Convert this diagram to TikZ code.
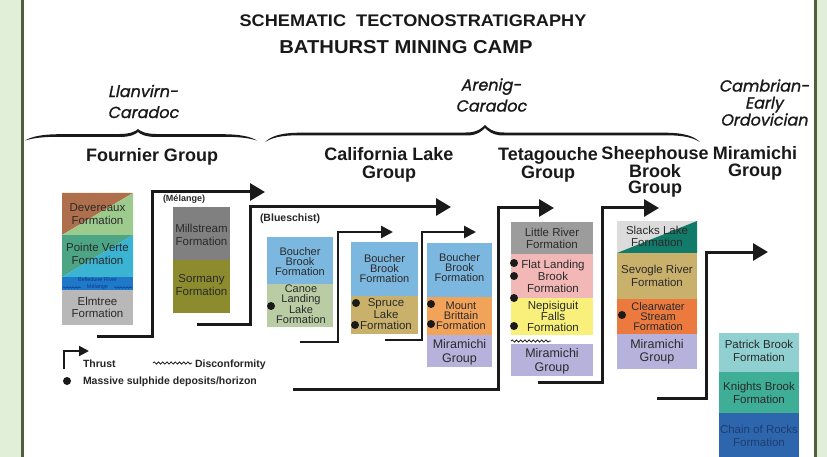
\documentclass[tikz,border=0pt]{standalone}
\usepackage{fontspec}
\setmainfont{Liberation Sans}
\newfontfamily\titlefont[FakeStretch=1.08]{Liberation Sans}
\newfontfamily\agefont[FakeSlant=0.2,FakeBold=1.2]{Poppins}
\usetikzlibrary{arrows.meta,decorations.pathmorphing}
\definecolor{cSide}{HTML}{E1EFD9}
\definecolor{cSideLine}{HTML}{4F5F3C}
\definecolor{cBrown}{HTML}{B06F4C}
\definecolor{cLgreen}{HTML}{9DCB8E}
\definecolor{cTealG}{HTML}{4CA585}
\definecolor{cCyan}{HTML}{3BB3D3}
\definecolor{cBelle}{HTML}{1F78C8}
\definecolor{cBelleTxt}{HTML}{0B3C8C}
\definecolor{cLgray}{HTML}{B8B8B8}
\definecolor{cGray}{HTML}{808080}
\definecolor{cOlive}{HTML}{8C8C2E}
\definecolor{cBlue}{HTML}{7CB7E0}
\definecolor{cSage}{HTML}{B9CCA4}
\definecolor{cTan}{HTML}{C9B16C}
\definecolor{cOrange}{HTML}{F2A35A}
\definecolor{cLav}{HTML}{B6B2DC}
\definecolor{cMgray}{HTML}{9C9C9C}
\definecolor{cPink}{HTML}{F2B7B7}
\definecolor{cYellow}{HTML}{F8F07A}
\definecolor{cPale}{HTML}{DCDCDC}
\definecolor{cDteal}{HTML}{117A68}
\definecolor{cRorange}{HTML}{EC7A3E}
\definecolor{cPatrick}{HTML}{90D0D0}
\definecolor{cKnights}{HTML}{3FAE96}
\definecolor{cChain}{HTML}{2E66AE}
\definecolor{cChainTxt}{HTML}{1D3D70}
\definecolor{cText}{HTML}{2A2A2A}
\definecolor{cLine}{HTML}{1A1A1A}
\newcommand\tbrace[6]{%
  \fill[cLine] ({#1},{#4+#5}) .. controls ({#1+6},{#4+0.3*#5}) and ({#1+15},{#4-1.2}) .. ({#1+35},{#4-1.3})
  -- ({#2-18},{#4-1.5}) .. controls ({#2-7},{#4-1.6}) and ({#2-2},{#4-#6+2}) .. ({#2},{#4-#6})
  .. controls ({#2+2},{#4-#6+2}) and ({#2+7},{#4-1.6}) .. ({#2+18},{#4-1.5})
  -- ({#3-35},{#4-1.3}) .. controls ({#3-15},{#4-1.2}) and ({#3-6},{#4+0.3*#5}) .. ({#3},{#4+#5})
  .. controls ({#3-7},{#4+0.3*#5+1.5}) and ({#3-15},{#4+1.2}) .. ({#3-35},{#4+1.3})
  -- ({#2+18},{#4+1.5}) .. controls ({#2+7},{#4+1.4}) and ({#2+2},{#4-#6+5}) .. ({#2},{#4-#6+3})
  .. controls ({#2-2},{#4-#6+5}) and ({#2-7},{#4+1.4}) .. ({#2-18},{#4+1.5})
  -- ({#1+35},{#4+1.3}) .. controls ({#1+15},{#4+1.2}) and ({#1+7},{#4+0.3*#5+1.5}) .. ({#1},{#4+#5}) -- cycle;}
\begin{document}
\begin{tikzpicture}[x=1pt,y=-1pt,
  txt/.style={inner sep=0pt, outer sep=0pt, align=center, text=cText, font=\fontsize{11.5}{#1}\selectfont},
  txt/.default=10,
  tight/.style={inner sep=0pt, outer sep=0pt, align=center, text=cText, font=\fontsize{11}{#1}\selectfont},
  tight/.default=10,
  mg/.style={inner sep=0pt, outer sep=0pt, align=center, text=cText, font=\fontsize{12.5}{#1}\selectfont},
  mg/.default=14,
  grp/.style={inner sep=0pt, outer sep=0pt, align=center, text=black!90, font=\fontsize{18}{#1}\selectfont\bfseries},
  grp/.default=18,
  age/.style={inner sep=0pt, outer sep=0pt, align=center, text=black!90, font=\agefont\fontsize{16}{#1}\selectfont},
  age/.default=21,
  ttl/.style={inner sep=0pt, outer sep=0pt, anchor=base, text=black!90, font=\titlefont\bfseries\fontsize{#1}{#1}\selectfont},
  lgd/.style={inner sep=0pt, outer sep=0pt, anchor=base west, text=black!85, font=\fontsize{10.5}{12}\selectfont\bfseries},
  thrust/.style={draw=cLine, line width=3pt, -{Triangle[length=15pt,width=17pt]}},
  thrustsm/.style={draw=cLine, line width=2.6pt, -{Triangle[length=12pt,width=12pt]}},
  dot/.style={circle, fill=cLine, inner sep=0pt, minimum size=8pt},
  wavy/.style={draw=cLine, decorate, decoration={snake, amplitude=1.1pt, segment length=4.2pt}, line width=0.8pt}]
\useasboundingbox (0,0) rectangle (827,457);
\fill[white] (0,0) rectangle (827,457);
% side strips
\fill[cSide] (0,0) rectangle (21,457);
\draw[cSideLine, line width=2.6pt] (22.3,0) -- (22.3,457);
\fill[cSide] (816,0) rectangle (827,457);
\draw[cSideLine, line width=2.6pt] (815.5,0) -- (815.5,457);
% titles
\node[ttl=16.8] (title1) at (413,27) {SCHEMATIC\ \ TECTONOSTRATIGRAPHY};
\node[ttl=18.7] (title2) at (406,54) {BATHURST MINING CAMP};
% ages
\node[age] (ageA) at (143,101.5) {Llanvirn-\\Caradoc};
\node[age] (ageB) at (491,95) {Arenig-\\Caradoc};
\node[age=17] (ageC) at (764,102.5) {Cambrian-\\Early\\Ordovician};
% braces
\tbrace{25}{138}{257}{135.5}{5}{6.5}
\tbrace{265}{485}{700}{134}{8}{9}
% group labels
\node[grp, anchor=base] (gFour) at (152,162) {Fournier Group};
\node[grp] (gCal) at (389,164.4) {California Lake\\Group};
\node[grp] (gTet) at (548,164.4) {Tetagouche\\Group};
\node[grp=16] (gShe) at (655,172) {Sheephouse\\Brook\\Group};
\node[grp=16.5] (gMir) at (755,163.5) {Miramichi\\Group};
% Fournier column
\fill[cBrown] (62,193) -- (133,193) -- (62,235) -- cycle;
\fill[cLgreen] (133,193) -- (133,235) -- (62,235) -- cycle;
\fill[cTealG] (62,235) -- (133,235) -- (62,277) -- cycle;
\fill[cCyan] (133,235) -- (133,277) -- (62,277) -- cycle;
\fill[cBelle] (62,277) rectangle (133,290);
\fill[cLgray] (62,290) rectangle (133,325);
\node[txt=12.5] (dev) at (97.5,214) {Devereaux\\Formation};
\node[txt=12.5] (pv) at (97.5,254) {Pointe Verte\\Formation};
\node[inner sep=0pt, align=center, text=cBelleTxt, font=\fontsize{5.5}{7}\selectfont] (bel) at (97.5,283.5) {Belledune River\\Mélange};
\draw[wavy, draw=cBelleTxt, line width=0.5pt, decoration={snake, amplitude=0.8pt, segment length=3pt}] (63,287.5) -- (81,287.5);
\draw[wavy, draw=cBelleTxt, line width=0.5pt, decoration={snake, amplitude=0.8pt, segment length=3pt}] (114,287.5) -- (132,287.5);
\node[txt=12.5] (elm) at (97.5,307.5) {Elmtree\\Formation};
% Millstream / Sormany
\fill[cGray] (173,207) rectangle (230,260);
\fill[cOlive] (173,260) rectangle (230,313);
\node[txt=12.5] (mil) at (201.5,235) {Millstream\\Formation};
\node[txt=12.5] (sor) at (201.5,285) {Sormany\\Formation};
\node[lgd, font=\fontsize{9}{10}\selectfont\bfseries] (mel) at (163,202) {(Mélange)};
\node[lgd] (blu) at (260,222) {(Blueschist)};
% California Lake A
\fill[cBlue] (267,237) rectangle (333,284);
\fill[cSage] (267,284) rectangle (333,327);
\node[tight] (bbA) at (300,261.5) {Boucher\\Brook\\Formation};
\node[tight] (can) at (301,304) {Canoe\\Landing\\Lake\\Formation};
\node[dot] (dA) at (271,306) {};
% California Lake B
\fill[cBlue] (351,242) rectangle (418,296);
\fill[cTan] (351,296) rectangle (418,334);
\node[tight] (bbB) at (384.5,269) {Boucher\\Brook\\Formation};
\node[txt=10.5] (spr) at (386,314) {Spruce\\Lake\\Formation};
\node[dot] (dB1) at (356,303) {};
\node[dot] (dB2) at (355,325) {};
% California Lake C
\fill[cBlue] (427,243) rectangle (492,297);
\fill[cOrange] (427,297) rectangle (492,335);
\fill[cLav] (427,335) rectangle (492,367);
\node[tight] (bbC) at (459.5,268) {Boucher\\Brook\\Formation};
\node[tight] (mtb) at (461,316) {Mount\\Brittain\\Formation};
\node[mg] (mgC) at (459.5,352) {Miramichi\\Group};
\node[dot] (dC1) at (431,304) {};
\node[dot] (dC2) at (431,324) {};
% Tetagouche
\fill[cMgray] (511,222) rectangle (593,254);
\fill[cPink] (511,254) rectangle (593,298);
\fill[cYellow] (511,298) rectangle (593,335);
\fill[cLav] (511,344) rectangle (593,376);
\node[txt=11.5] (lr) at (552,238.5) {Little River\\Formation};
\node[txt=12] (fl) at (553,276) {Flat Landing\\Brook\\Formation};
\node[txt=10.5] (nep) at (553,316) {Nepisiguit\\Falls\\Formation};
\node[mg] (mgT) at (552,361) {Miramichi\\Group};
\draw[wavy] (511,341) -- (551,341);
\node[dot] (dT1) at (514,263) {};
\node[dot] (dT2) at (514,276) {};
\node[dot] (dT3) at (514,298) {};
\node[dot] (dT4) at (514,326) {};
% Sheephouse Brook
\fill[cPale] (617,221) rectangle (697,253);
\fill[cDteal] (697,221) -- (697,253) -- (617,253) -- cycle;
\fill[cTan] (617,253) rectangle (697,299);
\fill[cRorange] (617,299) rectangle (697,334);
\fill[cLav] (617,334) rectangle (697,369);
\node[txt=11.5] (sl) at (657,236.5) {Slacks Lake\\Formation};
\node[txt=13] (sev) at (657,276) {Sevogle River\\Formation};
\node[tight] (clw) at (658,316.5) {Clearwater\\Stream\\Formation};
\node[mg=12.5] (mgS) at (657,352) {Miramichi\\Group};
\node[dot] (dS) at (622,315) {};
% Miramichi Group (right)
\fill[cPatrick] (719,333) rectangle (799,372);
\fill[cKnights] (719,372) rectangle (799,413);
\fill[cChain] (719,413) rectangle (799,457);
\node[txt=13.5] (pb) at (759,351) {Patrick Brook\\Formation};
\node[txt=13.5] (kb) at (759,393) {Knights Brook\\Formation};
\node[txt=13.5, text=cChainTxt] (cr) at (759,436) {Chain of Rocks\\Formation};
% thrusts
\coordinate (t1s) at (97,336);   \coordinate (t1e) at (265,192);
\coordinate (t2s) at (197,324);  \coordinate (t2e) at (451,207);
\coordinate (t3s) at (300,342);  \coordinate (t3e) at (393,232);
\coordinate (t4s) at (385,340);  \coordinate (t4e) at (476,232);
\coordinate (t5s) at (293,389);  \coordinate (t5e) at (554,208);
\coordinate (t6s) at (538,382);  \coordinate (t6e) at (659,208);
\coordinate (t7s) at (657,398);  \coordinate (t7e) at (768,252);
\draw[thrust] (t1s) -- ++(55,0) |- (t1e);
\draw[thrust] (t2s) -- ++(53,0) |- (t2e);
\draw[thrustsm] (t3s) -- ++(38,0) |- (t3e);
\draw[thrustsm] (t4s) -- ++(37,0) |- (t4e);
\draw[thrust] (t5s) -- ++(205,0) |- (t5e);
\draw[thrust] (t6s) -- ++(64,0) |- (t6e);
\draw[thrust] (t7s) -- ++(49,0) |- (t7e);
% legend
\coordinate (lgS) at (64,369); \coordinate (lgE) at (89,351);
\draw[draw=cLine, line width=2pt, -{Triangle[length=10pt,width=10pt]}] (lgS) |- (lgE);
\node[lgd] (lThr) at (83,367) {Thrust};
\draw[wavy] (153,363) -- (192,363);
\node[lgd] (lDis) at (195,367) {Disconformity};
\node[dot] (lDot) at (67,381) {};
\node[lgd] (lMas) at (83,384) {Massive sulphide deposits/horizon};
\end{tikzpicture}
\end{document}
